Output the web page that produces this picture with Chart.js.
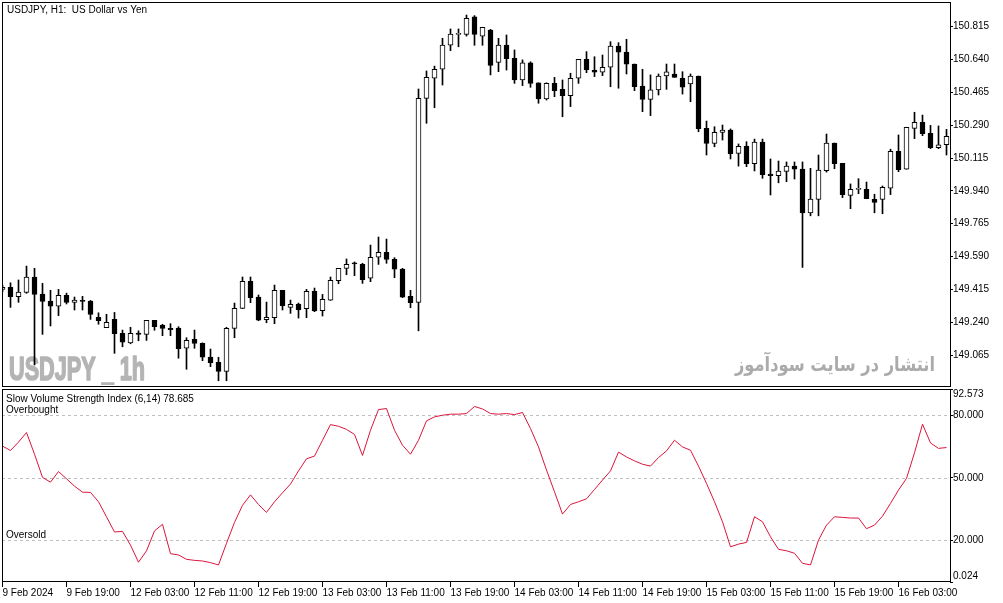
<!DOCTYPE html>
<html><head><meta charset="utf-8">
<script src="https://cdn.jsdelivr.net/npm/chart.js@4.4.1/dist/chart.umd.min.js"></script>
<style>
html,body{margin:0;padding:0;background:#fff;}
#wrap{position:relative;width:1003px;height:603px;overflow:hidden;background:#fff;}
canvas{position:absolute;left:0;}
#c1{top:0;width:1003px;height:389px;}
#c2{top:387px;width:1003px;height:216px;}
</style></head><body>
<div id="wrap"><canvas id="c1" width="1003" height="389"></canvas><canvas id="c2" width="1003" height="216"></canvas></div>
<script>
// ---- data (USDJPY H1, 9 Feb 11:00 .. 16 Feb 09:00) ----
const opens = [149.415,149.426,149.376,149.399,149.481,149.390,149.353,149.325,149.383,149.346,
149.356,149.353,149.266,149.211,149.255,149.181,149.130,149.182,149.175,149.250,
149.223,149.207,149.209,149.101,149.149,149.127,149.054,149.026,148.978,149.207,
149.314,149.458,149.374,149.253,149.264,149.410,149.319,149.337,149.312,149.404,
149.301,149.358,149.461,149.527,149.552,149.548,149.474,149.586,149.612,149.575,
149.523,149.378,149.346,150.433,150.540,150.588,150.717,150.774,150.774,150.868,
150.765,150.797,150.625,150.717,150.647,150.531,150.623,150.516,150.430,150.513,
150.481,150.447,150.540,150.641,150.584,150.572,150.599,150.712,150.680,150.616,
150.499,150.428,150.478,150.552,150.563,150.540,150.510,150.552,150.273,150.193,
150.252,150.264,150.140,150.179,150.085,150.200,150.030,150.021,150.044,150.072,
150.056,149.823,149.895,150.047,150.195,150.087,149.916,149.948,149.948,149.895,
149.895,149.954,150.151,150.055,150.273,150.305,150.247,150.170,150.186];
const highs = [149.438,149.450,149.465,149.539,149.527,149.447,149.410,149.415,149.395,149.374,
149.378,149.356,149.290,149.282,149.292,149.198,149.213,149.194,149.250,149.250,
149.229,149.232,149.216,149.157,149.198,149.130,149.097,149.053,149.213,149.342,
149.481,149.481,149.385,149.347,149.438,149.410,149.358,149.342,149.415,149.422,
149.388,149.481,149.527,149.577,149.561,149.554,149.651,149.694,149.683,149.584,
149.527,149.410,150.483,150.579,150.605,150.753,150.803,150.803,150.877,150.874,
150.812,150.801,150.753,150.771,150.691,150.638,150.628,150.516,150.516,150.545,
150.531,150.567,150.641,150.682,150.655,150.664,150.735,150.730,150.748,150.616,
150.588,150.558,150.563,150.616,150.616,150.575,150.563,150.552,150.312,150.282,
150.291,150.270,150.190,150.202,150.216,150.216,150.110,150.099,150.094,150.094,
150.094,150.060,150.131,150.243,150.195,150.087,149.977,150.005,149.987,149.922,
149.966,150.162,150.238,150.279,150.359,150.344,150.289,150.286,150.268];
const lows = [149.401,149.319,149.346,149.394,149.012,149.175,149.220,149.275,149.337,149.305,
149.305,149.255,149.229,149.211,149.074,149.109,149.125,149.141,149.143,149.197,
149.168,149.168,149.048,148.989,149.101,149.035,149.003,148.928,148.928,149.157,
149.312,149.344,149.248,149.237,149.232,149.305,149.287,149.262,149.264,149.296,
149.273,149.356,149.445,149.493,149.488,149.447,149.456,149.548,149.554,149.477,
149.371,149.317,149.194,150.300,150.383,150.504,150.687,150.708,150.765,150.716,
150.716,150.558,150.575,150.584,150.513,150.501,150.492,150.407,150.424,150.442,
150.335,150.389,150.513,150.570,150.549,150.554,150.495,150.487,150.563,150.474,
150.362,150.341,150.451,150.481,150.545,150.456,150.415,150.255,150.131,150.175,
150.211,150.110,150.072,150.069,150.046,150.007,149.918,149.983,149.989,150.003,
149.532,149.807,149.807,150.040,150.058,149.904,149.845,149.925,149.898,149.823,
149.818,149.920,150.042,150.055,150.218,150.234,150.165,150.165,150.131];
const closes = [149.426,149.376,149.401,149.481,149.388,149.351,149.325,149.383,149.346,149.358,
149.351,149.282,149.248,149.239,149.179,149.133,149.181,149.175,149.250,149.216,
149.207,149.200,149.099,149.143,149.127,149.053,149.024,148.978,149.207,149.314,
149.458,149.371,149.251,149.266,149.410,149.328,149.335,149.305,149.404,149.300,
149.362,149.463,149.527,149.548,149.551,149.466,149.586,149.612,149.575,149.522,
149.374,149.344,150.433,150.545,150.588,150.717,150.776,150.776,150.860,150.774,
150.812,150.609,150.717,150.644,150.531,150.623,150.513,150.430,150.513,150.474,
150.447,150.540,150.641,150.584,150.572,150.599,150.712,150.679,150.615,150.495,
150.428,150.478,150.552,150.575,150.545,150.492,150.552,150.272,150.193,150.252,
150.264,150.138,150.177,150.085,150.200,150.026,150.021,150.046,150.072,150.055,
149.823,149.896,150.051,150.195,150.085,149.920,149.948,149.950,149.898,149.879,
149.959,150.151,150.053,150.279,150.305,150.245,150.170,150.186,150.231];
const svsi = [65.2,63.1,67.1,71.7,61.3,50.2,47.9,53.0,49.5,46.0,
43.1,43.0,38.5,31.3,24.0,24.3,17.7,9.5,15.0,24.5,
27.7,13.6,13.0,10.9,10.4,10.1,9.3,8.2,18.6,28.6,
36.8,41.8,37.2,33.4,38.5,42.8,47.0,53.3,59.1,60.4,
68.0,75.5,74.7,73.2,70.8,60.7,72.8,82.7,83.2,72.8,
65.6,61.3,68.0,77.3,79.2,80.0,80.5,80.5,80.8,84.2,
83.0,80.8,80.5,80.8,80.3,81.3,73.6,64.8,53.7,43.3,
32.6,37.2,38.5,39.9,44.4,48.9,53.3,62.3,60.0,58.1,
56.5,55.6,59.7,62.9,68.0,64.8,63.2,55.6,47.3,38.5,
28.9,16.9,18.2,19.0,31.3,28.9,21.7,15.7,15.0,13.8,
9.0,8.2,20.1,27.3,31.3,31.0,30.7,30.7,25.6,27.3,
31.6,37.7,44.1,49.7,62.0,75.7,66.7,64.1,64.5];
const priceTicks = [149.065,149.240,149.415,149.590,149.765,149.940,150.115,150.290,150.465,150.640,150.815];
const svsiTicks = [0.024,20,50,80,92.573];
const svsiLevels = [20,50,80];
const xTickIdx = [0,8,16,24,32,40,48,56,64,72,80,88,96,104,112];
const xTickLabels = ['9 Feb 2024','9 Feb 19:00','12 Feb 03:00','12 Feb 11:00','12 Feb 19:00','13 Feb 03:00','13 Feb 11:00','13 Feb 19:00','14 Feb 03:00','14 Feb 11:00','14 Feb 19:00','15 Feb 03:00','15 Feb 11:00','15 Feb 19:00','16 Feb 03:00'];

// ---- chart ----
const FONT = "'Liberation Sans', Arial, sans-serif";
Chart.defaults.font.family = FONT;
Chart.defaults.font.size = 10;
Chart.defaults.color = '#000';
const X_MIN = -0.0625, X_MAX = 118.4375;
const idx = opens.map((_, i) => i);
const bodyData = idx.map(i => ({x: i, y: [opens[i], closes[i]]}));
const wickData = idx.map(i => ({x: i, y: [lows[i], highs[i]]}));
const bodyFill = idx.map(i => closes[i] >= opens[i] ? '#ffffff' : '#000000');

const mainDeco = {
  id: 'mainDeco',
  beforeDatasetsDraw(chart) {
    const ctx = chart.ctx;
    ctx.save();
    ctx.fillStyle = '#b4b4b4';
    ctx.strokeStyle = '#b4b4b4';
    ctx.lineWidth = 1.6;
    ctx.lineJoin = 'round';
    ctx.font = "bold 33px 'Liberation Sans', Arial, sans-serif";
    ctx.textAlign = 'left'; ctx.textBaseline = 'alphabetic';
    const t1 = 'USDJPY _ 1h';
    const w1 = ctx.measureText(t1).width;
    ctx.translate(9, 379.5); ctx.scale(136 / w1, 1);
    ctx.fillText(t1, 0, 0);
    ctx.strokeText(t1, 0, 0);
    ctx.restore();
    ctx.save();
    ctx.fillStyle = '#ababab';
    ctx.font = "bold 20px 'DejaVu Sans', sans-serif";
    ctx.direction = 'rtl';
    ctx.textAlign = 'right'; ctx.textBaseline = 'alphabetic';
    const t2 = 'انتشار در سایت سودآموز';
    const w2 = ctx.measureText(t2).width;
    ctx.translate(935, 371); ctx.scale(200 / w2, 1);
    ctx.fillText(t2, 0, 0);
    ctx.restore();
  },
  afterDraw(chart) {
    const ctx = chart.ctx;
    ctx.save();
    ctx.strokeStyle = '#000'; ctx.lineWidth = 1;
    ctx.strokeRect(2.5, 2.5, 948, 384);
    ctx.fillStyle = '#000';
    ctx.font = "10px " + FONT;
    ctx.textAlign = 'left'; ctx.textBaseline = 'alphabetic';
    ctx.fillText('USDJPY, H1:  US Dollar vs Yen', 7, 13);
    ctx.restore();
  }
};

new Chart(document.getElementById('c1'), {
  type: 'bar',
  data: { datasets: [
    { data: bodyData, backgroundColor: bodyFill, borderColor: '#000', borderWidth: 1, borderSkipped: false,
      barThickness: 5, minBarLength: 1, grouped: false },
    { data: wickData, backgroundColor: '#000', borderWidth: 0, barThickness: 1, grouped: false }
  ]},
  options: {
    responsive: false, animation: false, devicePixelRatio: 1,
    layout: { padding: { left: 2, top: 2, right: 0, bottom: 2 } },
    plugins: { legend: { display: false }, tooltip: { enabled: false } },
    scales: {
      x: { type: 'linear', min: X_MIN, max: X_MAX, offset: false, grid: { offset: false }, display: false },
      y: { position: 'right', min: 148.8946, max: 150.9466,
        afterBuildTicks: s => { s.ticks = priceTicks.map(v => ({ value: v })); },
        afterFit: s => { s.width = 53; s.paddingTop = 0; s.paddingBottom = 0; },
        ticks: { padding: 0, autoSkip: false, callback: v => Number(v).toFixed(3) },
        grid: { drawOnChartArea: false, drawTicks: true, tickLength: 3, tickColor: '#000', color: '#000' },
        border: { display: false } }
    }
  },
  plugins: [mainDeco]
});

const subDeco = {
  id: 'subDeco',
  beforeDatasetsDraw(chart) {
    const ctx = chart.ctx, a = chart.chartArea, ys = chart.scales.y;
    ctx.save();
    ctx.strokeStyle = '#c0c0c0'; ctx.lineWidth = 1; ctx.setLineDash([3, 3]);
    svsiLevels.forEach(v => {
      const y = Math.round(ys.getPixelForValue(v)) + 0.5;
      ctx.beginPath(); ctx.moveTo(a.left, y); ctx.lineTo(a.right, y); ctx.stroke();
    });
    ctx.restore();
  },
  afterDraw(chart) {
    const ctx = chart.ctx;
    ctx.save();
    ctx.strokeStyle = '#000'; ctx.lineWidth = 1;
    ctx.strokeRect(2.5, 2.5, 948, 192);
    ctx.fillStyle = '#000';
    ctx.font = "10px " + FONT;
    ctx.textAlign = 'left'; ctx.textBaseline = 'alphabetic';
    ctx.fillText('Slow Volume Strength Index (6,14) 78.685', 6, 14.7);
    ctx.fillText('Overbought', 6, 25.5);
    ctx.fillText('Oversold', 6, 150.7);
    ctx.textBaseline = 'middle';
    ctx.fillText('92.573', 953, 7.5);
    ctx.fillText('0.024', 953, 189.3);
    ctx.restore();
  }
};

new Chart(document.getElementById('c2'), {
  type: 'line',
  data: { datasets: [
    { data: idx.map(i => ({ x: i, y: svsi[i] })), borderColor: '#dc143c', borderWidth: 1,
      pointRadius: 0, tension: 0, fill: false }
  ]},
  options: {
    responsive: false, animation: false, devicePixelRatio: 1,
    layout: { padding: { left: 2, top: 2, right: 0, bottom: 0 } },
    plugins: { legend: { display: false }, tooltip: { enabled: false } },
    scales: {
      x: { type: 'linear', min: X_MIN, max: X_MAX, position: 'bottom', offset: false,
        afterBuildTicks: s => { s.ticks = xTickIdx.map(v => ({ value: v })); },
        afterFit: s => { s.height = 21; s.paddingLeft = 0; s.paddingRight = 0; },
        ticks: { autoSkip: false, maxRotation: 0, minRotation: 0, align: 'start', padding: 0,
          callback: (v, i) => xTickLabels[i] },
        grid: { drawOnChartArea: false, drawTicks: true, tickLength: 5, tickColor: '#000', color: '#000' },
        border: { display: false } },
      y: { position: 'right', min: 0.024, max: 92.573,
        afterBuildTicks: s => { s.ticks = svsiTicks.map(v => ({ value: v })); },
        afterFit: s => { s.width = 53; s.paddingTop = 0; s.paddingBottom = 0; },
        ticks: { padding: 0, autoSkip: false,
          callback: v => (v === 0.024 || v === 92.573) ? '' : Number(v).toFixed(3) },
        grid: { drawOnChartArea: false, drawTicks: true, tickLength: 3, tickColor: '#000', color: '#000' },
        border: { display: false } }
    }
  },
  plugins: [subDeco]
});
</script>
</body></html>
